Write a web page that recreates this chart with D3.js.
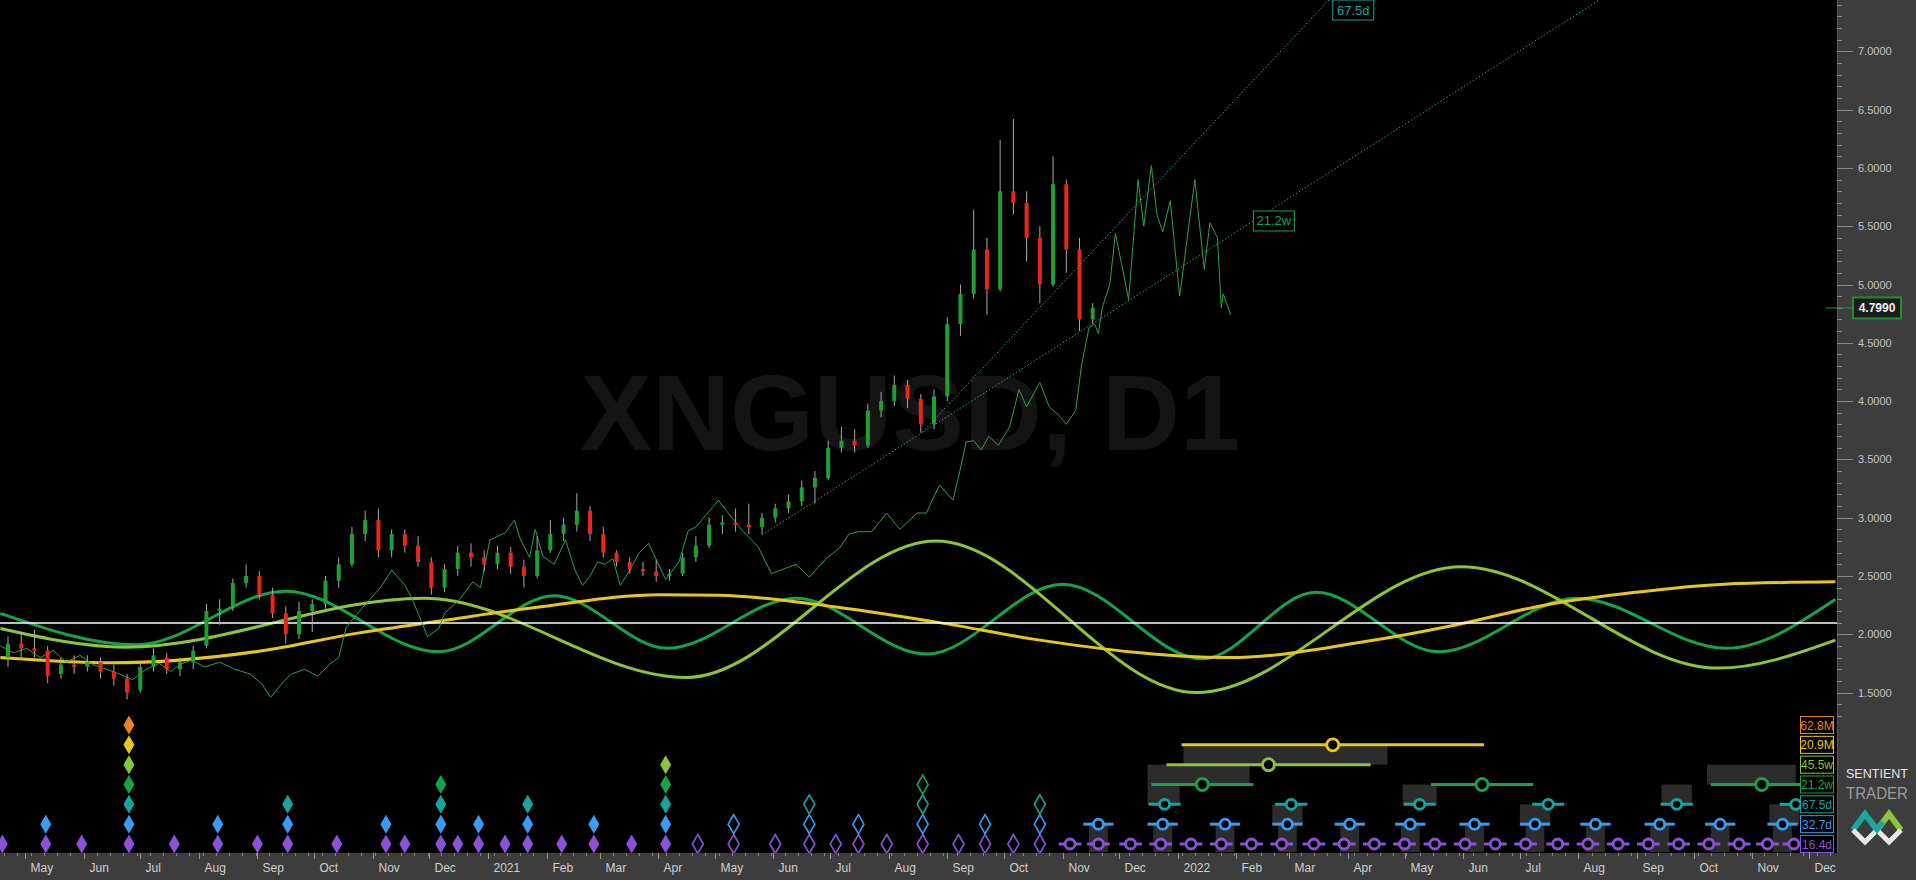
<!DOCTYPE html>
<html><head><meta charset="utf-8">
<script src="https://cdn.jsdelivr.net/npm/d3@7"></script>
<style>html,body{margin:0;padding:0;background:#000;overflow:hidden}</style>
</head><body><svg id="c" width="1916" height="880"></svg>
<script>
// ---------------- DATA ----------------
const symbolTitle = "XNGUSD, D1";
const currentPrice = 4.799;
const refLine = 2.097;
// weekly candles: [week start, open, high, low, close]
const candles = [
["2020-04-20",1.80,1.98,1.72,1.92],["2020-04-27",1.92,2.02,1.78,1.88],["2020-05-04",1.88,2.04,1.80,1.86],
["2020-05-11",1.86,1.90,1.58,1.64],["2020-05-18",1.66,1.80,1.62,1.74],["2020-05-25",1.74,1.82,1.66,1.72],
["2020-06-01",1.72,1.82,1.68,1.76],["2020-06-08",1.76,1.80,1.62,1.68],["2020-06-15",1.68,1.74,1.56,1.62],
["2020-06-22",1.62,1.66,1.44,1.50],["2020-06-29",1.52,1.76,1.50,1.72],["2020-07-06",1.72,1.88,1.68,1.82],
["2020-07-13",1.80,1.84,1.66,1.70],["2020-07-20",1.70,1.80,1.64,1.76],["2020-07-27",1.76,1.90,1.70,1.86],
["2020-08-03",1.90,2.26,1.88,2.20],["2020-08-10",2.20,2.30,2.08,2.22],["2020-08-17",2.24,2.48,2.20,2.44],
["2020-08-24",2.44,2.60,2.40,2.50],["2020-08-31",2.50,2.54,2.30,2.34],["2020-09-07",2.34,2.40,2.14,2.18],
["2020-09-14",2.18,2.24,1.92,2.00],["2020-09-21",2.00,2.28,1.96,2.20],["2020-09-28",2.20,2.30,2.02,2.26],
["2020-10-05",2.26,2.50,2.22,2.46],["2020-10-12",2.46,2.66,2.40,2.60],["2020-10-19",2.60,2.92,2.58,2.86],
["2020-10-26",2.86,3.06,2.80,2.98],["2020-11-02",2.98,3.08,2.66,2.72],["2020-11-09",2.72,2.90,2.66,2.86],
["2020-11-16",2.86,2.90,2.70,2.76],["2020-11-23",2.76,2.84,2.58,2.62],["2020-11-30",2.62,2.66,2.34,2.40],
["2020-12-07",2.40,2.60,2.36,2.56],["2020-12-14",2.56,2.76,2.50,2.70],["2020-12-21",2.70,2.78,2.58,2.66],
["2020-12-28",2.66,2.72,2.54,2.60],["2021-01-04",2.60,2.76,2.56,2.70],["2021-01-11",2.70,2.75,2.52,2.58],
["2021-01-18",2.58,2.64,2.40,2.50],["2021-01-25",2.50,2.84,2.48,2.72],["2021-02-01",2.72,2.98,2.70,2.86],
["2021-02-08",2.86,3.00,2.80,2.94],["2021-02-15",2.94,3.21,2.88,3.06],["2021-02-22",3.06,3.10,2.80,2.86],
["2021-03-01",2.86,2.92,2.66,2.70],["2021-03-08",2.70,2.72,2.58,2.62],["2021-03-15",2.62,2.66,2.52,2.56],
["2021-03-22",2.56,2.62,2.50,2.54],["2021-03-29",2.54,2.64,2.45,2.50],["2021-04-05",2.50,2.56,2.46,2.52],
["2021-04-12",2.52,2.70,2.50,2.66],["2021-04-19",2.66,2.84,2.62,2.76],["2021-04-26",2.76,3.00,2.74,2.94],
["2021-05-03",2.94,3.02,2.86,2.96],["2021-05-10",2.96,3.08,2.88,2.94],["2021-05-17",2.94,3.12,2.86,2.92],
["2021-05-24",2.92,3.04,2.86,3.00],["2021-05-31",3.00,3.12,2.96,3.08],["2021-06-07",3.08,3.20,3.04,3.14],
["2021-06-14",3.14,3.32,3.10,3.26],["2021-06-21",3.26,3.40,3.12,3.34],["2021-06-28",3.34,3.66,3.32,3.60],
["2021-07-05",3.60,3.78,3.56,3.66],["2021-07-12",3.66,3.76,3.56,3.62],["2021-07-19",3.62,3.98,3.60,3.92],
["2021-07-26",3.92,4.08,3.86,4.00],["2021-08-02",4.00,4.22,3.96,4.14],["2021-08-09",4.14,4.18,3.94,4.02],
["2021-08-16",4.02,4.06,3.73,3.80],["2021-08-23",3.80,4.10,3.76,4.04],["2021-08-30",4.04,4.72,4.00,4.66],
["2021-09-06",4.66,5.00,4.56,4.92],["2021-09-13",4.92,5.64,4.88,5.30],["2021-09-20",5.30,5.40,4.74,4.96],
["2021-09-27",4.96,6.24,4.94,5.80],["2021-10-04",5.80,6.42,5.60,5.70],["2021-10-11",5.70,5.80,5.20,5.40],
["2021-10-18",5.40,5.50,4.84,5.00],["2021-10-25",5.00,6.10,4.98,5.86],["2021-11-01",5.86,5.90,5.10,5.30],
["2021-11-08",5.30,5.40,4.60,4.70],["2021-11-15",4.70,4.84,4.66,4.80]
];
// FLD (thin green line): [date, value]
const fld = [
["2020-04-18",1.90],["2020-04-25",1.84],["2020-05-02",1.88],["2020-05-09",1.80],["2020-05-16",1.86],["2020-05-23",1.76],
["2020-05-30",1.82],["2020-06-06",1.74],["2020-06-13",1.70],["2020-06-20",1.66],["2020-06-27",1.61],["2020-07-04",1.70],
["2020-07-11",1.75],["2020-07-17",1.68],["2020-07-22",1.74],["2020-07-28",1.78],["2020-08-04",1.72],["2020-08-12",1.76],
["2020-08-20",1.70],["2020-08-28",1.66],["2020-09-03",1.58],["2020-09-08",1.46],["2020-09-14",1.58],["2020-09-19",1.66],
["2020-09-26",1.70],["2020-10-03",1.64],["2020-10-09",1.74],["2020-10-14",1.80],["2020-10-18",2.06],["2020-10-25",2.20],
["2020-10-30",2.29],["2020-11-05",2.40],["2020-11-11",2.55],["2020-11-18",2.42],["2020-11-22",2.30],["2020-11-30",1.98],
["2020-12-06",2.05],["2020-12-09",2.18],["2020-12-17",2.30],["2020-12-24",2.45],["2020-12-28",2.40],["2021-01-02",2.81],
["2021-01-10",2.87],["2021-01-15",2.98],["2021-01-18",2.82],["2021-01-23",2.66],["2021-01-26",2.90],["2021-01-30",2.67],
["2021-02-05",2.60],["2021-02-11",2.81],["2021-02-16",2.55],["2021-02-20",2.42],["2021-02-24",2.50],["2021-02-28",2.62],
["2021-03-04",2.60],["2021-03-08",2.65],["2021-03-12",2.42],["2021-03-17",2.55],["2021-03-22",2.70],["2021-03-27",2.78],
["2021-04-05",2.47],["2021-04-12",2.62],["2021-04-17",2.89],["2021-04-21",2.92],["2021-05-03",3.15],["2021-05-09",3.02],
["2021-05-15",2.90],["2021-05-24",2.75],["2021-05-31",2.52],["2021-06-08",2.57],["2021-06-13",2.60],["2021-06-20",2.49],
["2021-06-29",2.65],["2021-07-06",2.74],["2021-07-11",2.86],["2021-07-16",2.88],["2021-07-23",2.88],["2021-07-31",3.04],
["2021-08-07",2.90],["2021-08-16",3.04],["2021-08-21",3.04],["2021-08-24",3.15],["2021-08-28",3.28],["2021-09-04",3.15],
["2021-09-07",3.35],["2021-09-11",3.65],["2021-09-15",3.66],["2021-09-19",3.58],["2021-09-23",3.70],["2021-09-28",3.62],
["2021-10-04",3.78],["2021-10-09",4.10],["2021-10-13",3.95],["2021-10-20",4.16],["2021-10-25",3.95],["2021-10-30",3.88],
["2021-11-03",3.80],["2021-11-08",3.92],["2021-11-11",4.30],["2021-11-15",4.63],["2021-11-18",4.66],["2021-11-20",4.58],
["2021-11-22",4.80],["2021-11-26",5.00],["2021-11-29",5.44],["2021-12-06",4.87],["2021-12-11",5.90],["2021-12-14",5.50],
["2021-12-18",6.02],["2021-12-21",5.60],["2021-12-24",5.45],["2021-12-28",5.72],["2022-01-02",4.90],["2022-01-10",5.90],
["2022-01-15",5.13],["2022-01-18",5.53],["2022-01-22",5.40],["2022-01-24",4.80],["2022-01-25",4.92],["2022-01-29",4.74]
];
// composite cycle waves
const wave21w = [["2020-04-18",2.18],["2020-06-29",1.91],["2020-09-16",2.37],["2020-12-06",1.85],["2021-02-05",2.33],
["2021-04-06",1.88],["2021-06-13",2.31],["2021-08-21",1.83],["2021-11-01",2.43],["2022-01-14",1.79],["2022-03-15",2.36],
["2022-05-19",1.85],["2022-07-31",2.31],["2022-10-18",1.88],["2022-12-15",2.30]];
const wave45w = [["2020-04-18",2.05],["2020-06-23",1.89],["2020-11-28",2.31],["2021-04-16",1.63],["2021-08-26",2.80],
["2022-01-11",1.50],["2022-05-31",2.58],["2022-10-14",1.71],["2022-12-15",1.95]];
const wave20M = [["2020-04-18",1.80],["2020-06-15",1.755],["2020-09-06",1.865],["2020-10-24",2.01],["2020-12-09",2.12],
["2021-01-26",2.23],["2021-04-02",2.34],["2021-05-03",2.335],["2021-07-06",2.23],["2021-08-28",2.10],["2021-10-20",1.95],
["2022-01-28",1.80],["2022-04-11",1.94],["2022-05-28",2.08],["2022-07-14",2.25],["2022-08-31",2.36],["2022-10-17",2.43],
["2022-12-15",2.45]];
// trend lines
const trendA = [["2021-08-19",3.735],["2022-03-22",7.44]];
const trendB = [["2021-05-26",2.852],["2022-08-12",7.44]];
const trendLabels = [["67.5d","2022-03-24"],["21.2w","2022-02-10"]];
// cycles
const cycleLabels = ["16.4d","32.7d","67.5d","21.2w","45.5w","20.9M","62.8M"];
const cycleColors = ["#8a52d8","#3a9cf0","#17a3a0","#17a34a","#8cc43c","#e6c81a","#e8841a"];
const troughDates = ["2020-04-19","2020-05-12","2020-05-31","2020-06-25","2020-07-19","2020-08-11","2020-09-01","2020-09-17",
"2020-10-13","2020-11-08","2020-11-18","2020-12-07","2020-12-16","2020-12-27","2021-01-10","2021-01-22","2021-02-09",
"2021-02-26","2021-03-18","2021-04-05"];
const troughDepth = [1,2,1,7,1,2,1,3,1,2,1,4,1,2,1,3,1,2,1,5];
const projDates = ["2021-04-22","2021-05-11","2021-06-02","2021-06-20","2021-07-04","2021-07-16","2021-07-31","2021-08-19",
"2021-09-07","2021-09-21","2021-10-06","2021-10-20"];
const projDepth = [1,2,1,3,1,2,1,4,1,2,1,3];
const phase16d = ["2021-11-05","2021-11-20","2021-12-07","2021-12-23","2022-01-08","2022-01-24","2022-02-09","2022-02-25",
"2022-03-14","2022-03-30","2022-04-15","2022-05-01","2022-05-17","2022-06-02","2022-06-18","2022-07-04","2022-07-21",
"2022-08-06","2022-08-22","2022-09-07","2022-09-23","2022-10-09","2022-10-25","2022-11-09","2022-11-23"];
const phase32d = ["2021-11-20","2021-12-24","2022-01-26","2022-02-28","2022-04-02","2022-05-04","2022-06-07","2022-07-09",
"2022-08-10","2022-09-13","2022-10-15","2022-11-17"];
const phase67d = ["2021-12-25","2022-03-02","2022-05-09","2022-07-16","2022-09-22","2022-11-24"];
const phase21w = ["2022-01-14","2022-06-11","2022-11-06"];
const phase45w = ["2022-02-18","2023-02-10"];
const phase20M = ["2022-03-24"];
const phaseSpanDays = [6,8,8.5,27,54,80,0];
// shaded phase windows: [start, end, upper level, lower level]
const phaseBoxes = [
["2022-01-04","2022-04-22",5,4],["2021-12-16","2022-02-08",4,3],["2022-10-08","2022-11-24",4,3],
["2021-12-16","2022-01-02",3,2],["2022-02-20","2022-03-08",2,1],["2022-04-30","2022-05-18",3,2],
["2022-07-01","2022-07-17",2,1],["2022-09-14","2022-09-30",3,2],["2022-11-10","2022-11-26",2,1]
];
const priceTicks = [1.5,2.0,2.5,3.0,3.5,4.0,4.5,5.0,5.5,6.0,6.5,7.0];

// ---------------- SETUP ----------------
const W = 1916, H = 880, PR = 1837, AB = 853;
const parse = d3.timeParse("%Y-%m-%d");
const x = d3.scaleTime().domain([parse("2020-05-01"), parse("2022-12-01")]).range([25, 1809]);
const y = d3.scaleLinear().domain([1.5, 7.0]).range([692.6, 51.3]);
const ly = d3.scalePoint().domain(d3.range(7)).range([844, 725]);
const narrow = "'Liberation Sans Narrow','Arial Narrow','Liberation Sans',Arial,sans-serif";
const sans = "'Liberation Sans',Arial,sans-serif";

const svg = d3.select("#c");
svg.append("defs").append("clipPath").attr("id","plot")
  .append("rect").attr("x",0).attr("y",0).attr("width",PR).attr("height",AB);
svg.append("rect").attr("width",W).attr("height",H).attr("fill","#000");
const g = svg.append("g").attr("clip-path","url(#plot)");

// watermark
g.append("text").attr("x",910).attr("y",450).attr("text-anchor","middle")
  .attr("font-family",sans).attr("font-weight","bold").attr("font-size",108)
  .attr("fill","#141414").text(symbolTitle);

// waves
const waveLine = d3.line().x(d=>x(parse(d[0]))).y(d=>y(d[1])).curve(d3.curveMonotoneX);
[[wave21w,cycleColors[3]],[wave45w,cycleColors[4]],[wave20M,cycleColors[5]]].forEach(([data,col])=>{
  g.append("path").datum(data).attr("d",waveLine).attr("fill","none").attr("stroke",col).attr("stroke-width",3);
});
// reference line
g.append("line").attr("x1",0).attr("x2",PR).attr("y1",y(refLine)).attr("y2",y(refLine))
  .attr("stroke","#ffffff").attr("stroke-width",1.5);

// FLD
g.append("path").datum(fld).attr("d",d3.line().x(d=>x(parse(d[0]))).y(d=>y(d[1])))
  .attr("fill","none").attr("stroke","#2aa24c").attr("stroke-width",1);

// candles
const cg = g.append("g");
candles.forEach(c=>{
  const cx = x(d3.timeDay.offset(parse(c[0]),2));
  cg.append("line").attr("x1",cx).attr("x2",cx).attr("y1",y(c[2])).attr("y2",y(c[3]))
    .attr("stroke","#a8a8a8").attr("stroke-width",1);
  const top = Math.min(y(c[1]),y(c[4])), h = Math.max(1.5, Math.abs(y(c[1])-y(c[4])));
  cg.append("rect").attr("x",cx-2).attr("width",4).attr("y",top).attr("height",h)
    .attr("fill", c[4]>=c[1] ? "#1f9e33" : "#e8261a");
});

// trend lines
[[trendA,"#3aa89a"],[trendB,"#35a46a"]].forEach(([t,col])=>{
  g.append("line").attr("x1",x(parse(t[0][0]))).attr("y1",y(t[0][1]))
    .attr("x2",x(parse(t[1][0]))).attr("y2",y(t[1][1]))
    .attr("stroke",col).attr("stroke-width",1).attr("stroke-dasharray","1.5,2");
});
[[trendA,trendLabels[0],cycleColors[2]],[trendB,trendLabels[1],cycleColors[3]]].forEach(([t,lab,col])=>{
  const vs = d3.scaleTime().domain([parse(t[0][0]),parse(t[1][0])]).range([t[0][1],t[1][1]]);
  const lx = x(parse(lab[1]));
  const lyy = Math.max(10, y(vs(parse(lab[1]))));
  g.append("rect").attr("x",lx).attr("y",lyy-10).attr("width",41).attr("height",20)
    .attr("fill","#000").attr("stroke",col).attr("stroke-width",1);
  g.append("text").attr("x",lx+20.5).attr("y",lyy+4.5).attr("text-anchor","middle")
    .attr("font-family",narrow).attr("font-size",13).attr("fill",col).text(lab[0]);
});

// diamonds
const diamond = (cx,cy)=>`M${cx},${cy-9.5}L${cx+5.5},${cy}L${cx},${cy+9.5}L${cx-5.5},${cy}Z`;
troughDates.forEach((d,i)=>{
  for(let l=0;l<troughDepth[i];l++){
    g.append("path").attr("d",diamond(x(parse(d)),ly(l))).attr("fill",cycleColors[l]);
  }
});
projDates.forEach((d,i)=>{
  for(let l=0;l<projDepth[i];l++){
    g.append("path").attr("d",diamond(x(parse(d)),ly(l))).attr("fill","none")
      .attr("stroke",cycleColors[l]).attr("stroke-width",1.6);
  }
});

// phase boxes
const boxCol = "#2c2c2c";
phaseBoxes.forEach(b=>{
  g.append("rect").attr("x",x(parse(b[0]))).attr("width",x(parse(b[1]))-x(parse(b[0])))
    .attr("y",ly(b[2])).attr("height",ly(b[3])-ly(b[2])).attr("fill",boxCol);
});
phase32d.forEach(d=>{
  const t = parse(d);
  g.append("rect").attr("x",x(d3.timeDay.offset(t,-5))).attr("width",x(d3.timeDay.offset(t,5))-x(d3.timeDay.offset(t,-5)))
    .attr("y",ly(1)).attr("height",852-ly(1)).attr("fill",boxCol);
});
// phase markers
const mg = g.append("g");
[phase16d,phase32d,phase67d,phase21w,phase45w,phase20M].forEach((arr,l)=>{
  arr.forEach(d=>{
    const t = parse(d), cx = x(t), span = phaseSpanDays[l];
    const x1 = x(new Date(t.getTime()-span*864e5)), x2 = Math.min(1800, x(new Date(t.getTime()+span*864e5)));
    if (x1 < 1800) mg.append("line").attr("x1",x1).attr("x2",x2).attr("y1",ly(l)).attr("y2",ly(l))
      .attr("stroke",cycleColors[l]).attr("stroke-width",3);
    if (cx < 1800) mg.append("circle").attr("cx",cx).attr("cy",ly(l)).attr("r",l>=3?6:5)
      .attr("fill","#000").attr("stroke",cycleColors[l]).attr("stroke-width",2.8);
  });
});
// cycle labels
cycleLabels.forEach((t,l)=>{
  svg.append("rect").attr("x",1800.5).attr("y",ly(l)-8.5).attr("width",33).attr("height",17)
    .attr("fill","#000").attr("stroke",cycleColors[l]).attr("stroke-width",1);
  svg.append("text").attr("x",1817).attr("y",ly(l)+4.5).attr("text-anchor","middle")
    .attr("font-family",narrow).attr("font-size",12).attr("fill",cycleColors[l]).text(t);
});

// ---------------- AXES ----------------
const panel = "#3d3d3d";
svg.append("rect").attr("x",0).attr("y",AB).attr("width",W).attr("height",H-AB).attr("fill",panel);
svg.append("rect").attr("x",PR).attr("y",0).attr("width",W-PR).attr("height",H).attr("fill",panel);
svg.append("line").attr("x1",PR+0.5).attr("x2",PR+0.5).attr("y1",0).attr("y2",AB).attr("stroke","#5a5a5a");

// price axis
d3.range(13,75).forEach(k=>{
  const v = k/10, major = k%5===0;
  svg.append("line").attr("x1",PR).attr("x2",PR+(major?16:5)).attr("y1",Math.round(y(v))+0.5).attr("y2",Math.round(y(v))+0.5)
    .attr("stroke","#8a8a8a").attr("stroke-width",1);
});
priceTicks.forEach(v=>{
  svg.append("text").attr("x",1858).attr("y",y(v)+4).attr("font-family",sans).attr("font-size",11)
    .attr("fill","#c4c4c4").text(d3.format(".4f")(v));
});
// current price tag
svg.append("line").attr("x1",1826).attr("x2",1853).attr("y1",y(currentPrice)).attr("y2",y(currentPrice))
  .attr("stroke","#1f9e33").attr("stroke-width",1);
svg.append("rect").attr("x",1853).attr("y",y(currentPrice)-10.5).attr("width",48).attr("height",21)
  .attr("fill","#1c1c1c").attr("stroke","#1f8f2f").attr("stroke-width",2);
svg.append("text").attr("x",1877).attr("y",y(currentPrice)+4.5).attr("text-anchor","middle")
  .attr("font-family",sans).attr("font-weight","bold").attr("font-size",12).attr("fill","#f0f0f0")
  .text(d3.format(".4f")(currentPrice));

// time axis
const t0 = parse("2020-04-13"), t1 = parse("2022-12-20");
d3.timeMonday.range(t0,t1).forEach(d=>{
  const xx = Math.round(x(d))+0.5;
  if (xx < PR) svg.append("line").attr("x1",xx).attr("x2",xx).attr("y1",AB).attr("y2",AB+3).attr("stroke","#8a8a8a");
});
d3.timeMonth.range(parse("2020-05-01"),t1).forEach(d=>{
  const xx = Math.round(x(d))+0.5;
  svg.append("line").attr("x1",xx).attr("x2",xx).attr("y1",AB).attr("y2",AB+6).attr("stroke","#9a9a9a");
  svg.append("text").attr("x",xx+5).attr("y",872).attr("font-family",narrow).attr("font-size",12)
    .attr("fill","#d0d0d0").text(d.getMonth()===0 ? d3.timeFormat("%Y")(d) : d3.timeFormat("%b")(d));
});

// logo
svg.append("text").attr("x",1877).attr("y",778).attr("text-anchor","middle").attr("font-family",sans)
  .attr("font-size",12).attr("textLength",62).attr("lengthAdjust","spacingAndGlyphs")
  .attr("fill","#e6e6e6").text("SENTIENT");
svg.append("text").attr("x",1877).attr("y",799).attr("text-anchor","middle").attr("font-family",sans)
  .attr("font-size",17).attr("textLength",62).attr("lengthAdjust","spacingAndGlyphs")
  .attr("fill","#9c9c9c").text("TRADER");
const lg = svg.append("g").attr("transform","translate(1877,824)");
lg.append("path").attr("d","M-24,6L-12,-10L0,6").attr("fill","none").attr("stroke","#18a89e").attr("stroke-width",6);
lg.append("path").attr("d","M0,6L12,-10L24,6").attr("fill","none").attr("stroke","#8cc43c").attr("stroke-width",6);
lg.append("path").attr("d","M-24,6L-12,18L0,6L12,18L24,6").attr("fill","none").attr("stroke","#e8e8e8").attr("stroke-width",5);
lg.append("path").attr("d","M-6,-2L0,6L6,-2").attr("fill","none").attr("stroke","#18a89e").attr("stroke-width",5);
</script></body></html>
